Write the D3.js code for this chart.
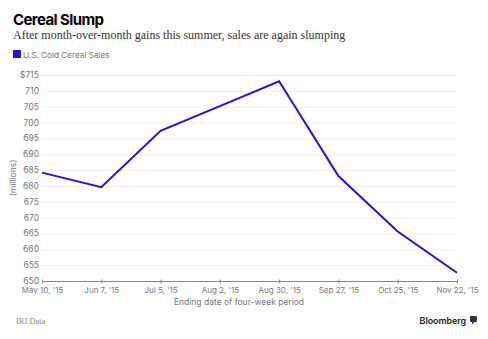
<!DOCTYPE html>
<html>
<head>
<meta charset="utf-8">
<script src="https://cdn.jsdelivr.net/npm/d3@7"></script>
<style>
	body { margin: 0; background: #fff; }
	svg { display: block; }
</style>
</head>
<body>
<script>
var dates = ["May 10, '15", "Jun 7, '15", "Jul 5, '15", "Aug 2, '15", "Aug 30, '15", "Sep 27, '15", "Oct 25, '15", "Nov 22, '15"];
var sales = [684.2, 679.6, 697.4, 705.2, 713.0, 683.1, 665.6, 652.6];
var yTicks = [650, 655, 660, 665, 670, 675, 680, 685, 690, 695, 700, 705, 710, 715];

var width = 488,
	height = 339,
	margin = { top: 75, right: 31, bottom: 58, left: 42 };

var svg = d3.select('body').append('svg')
	.attr('width', width)
	.attr('height', height)
	.style('font-family', 'Inter, "Liberation Sans", sans-serif');

var x = d3.scalePoint()
	.domain(dates)
	.range([margin.left, width - margin.right]);

var y = d3.scaleLinear()
	.domain([650, 715])
	.range([height - margin.bottom, margin.top]);

// header
svg.append('text')
	.attr('x', 13)
	.attr('y', 25)
	.style('font-size', '15px')
	.style('font-weight', 700)
	.style('letter-spacing', '-0.6px')
	.style('fill', '#000')
	.text('Cereal Slump');

svg.append('text')
	.attr('x', 13)
	.attr('y', 39)
	.style('font-family', '"Liberation Serif", "DejaVu Serif", serif')
	.style('font-size', '12px')
	.style('fill', '#333')
	.text('After month-over-month gains this summer, sales are again slumping');

svg.append('rect')
	.attr('x', 13)
	.attr('y', 50)
	.attr('width', 8)
	.attr('height', 8)
	.style('fill', '#2c0fd2');

svg.append('text')
	.attr('x', 23)
	.attr('y', 57.5)
	.style('font-size', '8.2px')
	.style('fill', '#777')
	.text('U.S. Cold Cereal Sales');

// grid
svg.append('g')
	.selectAll('line')
	.data(yTicks.slice(1))
	.enter().append('line')
		.attr('x1', margin.left)
		.attr('x2', width - margin.right)
		.attr('y1', function (d) { return y(d) + 0.5; })
		.attr('y2', function (d) { return y(d) + 0.5; })
		.style('stroke', '#efefef')
		.style('stroke-width', 1);

// y axis labels
svg.append('g')
	.selectAll('text')
	.data(yTicks)
	.enter().append('text')
		.attr('x', 39)
		.attr('y', function (d) { return y(d) + 3; })
		.attr('text-anchor', 'end')
		.style('font-size', '8.5px')
		.style('fill', '#777')
		.text(function (d) { return d === 715 ? '$715' : d; });

svg.append('text')
	.attr('transform', 'translate(' + [16, y(682.5)] + ') rotate(-90)')
	.attr('text-anchor', 'middle')
	.style('font-size', '8.5px')
	.style('fill', '#777')
	.text('(millions)');

// x axis
var xAxis = svg.append('g')
	.attr('transform', 'translate(0,' + (y(650) + 0.5) + ')')
	.call(d3.axisBottom(x).tickSize(2).tickPadding(4));

xAxis.select('.domain')
	.attr('d', 'M' + margin.left + ',0H' + (width - margin.right))
	.style('stroke', '#888');

xAxis.selectAll('.tick line')
	.attr('y1', -2)
	.style('stroke', '#888');

xAxis.selectAll('.tick text')
	.style('font-family', 'Inter, "Liberation Sans", sans-serif')
	.style('font-size', '8px')
	.style('fill', '#777');

svg.append('text')
	.attr('x', 239)
	.attr('y', 305)
	.attr('text-anchor', 'middle')
	.style('font-size', '8.5px')
	.style('fill', '#777')
	.text('Ending date of four-week period');

// line
var line = d3.line()
	.x(function (d, i) { return x(dates[i]); })
	.y(function (d) { return y(d); });

svg.append('path')
	.datum(sales)
	.attr('d', line)
	.style('fill', 'none')
	.style('stroke', '#2c0fd2')
	.style('stroke-width', 2)
	.style('stroke-linejoin', 'miter');

// footer
svg.append('text')
	.attr('x', 16)
	.attr('y', 324)
	.style('font-family', '"Liberation Serif", "DejaVu Serif", serif')
	.style('font-size', '8.5px')
	.style('fill', '#888')
	.text('IRI Data');

svg.append('text')
	.attr('x', 466)
	.attr('y', 324)
	.attr('text-anchor', 'end')
	.style('font-size', '9px')
	.style('font-weight', 600)
	.style('letter-spacing', '-0.1px')
	.style('fill', '#222')
	.text('Bloomberg');

svg.append('rect')
	.attr('x', 470)
	.attr('y', 316)
	.attr('width', 7)
	.attr('height', 6)
	.attr('rx', 1)
	.style('fill', '#333');

svg.append('path')
	.attr('d', 'M472,322L472,324.5L474.5,322Z')
	.style('fill', '#333');
</script>
</body>
</html>
